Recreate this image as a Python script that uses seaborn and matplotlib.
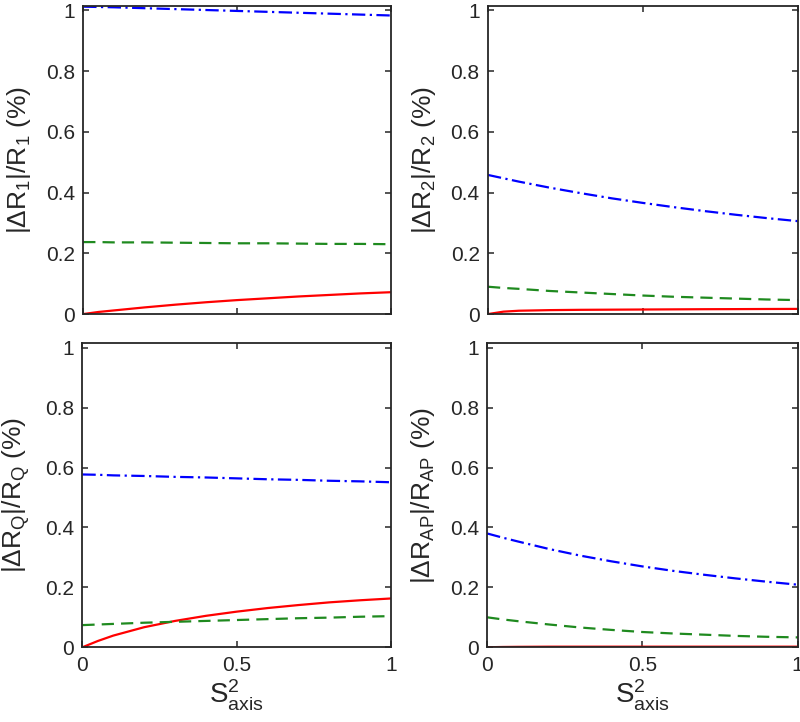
import numpy as np
import pandas as pd
import matplotlib
matplotlib.use("Agg")
import matplotlib.pyplot as plt
import seaborn as sns

# shared abscissa (S^2_axis)
s2 = [0.0, 0.05, 0.1, 0.2, 0.3, 0.4, 0.5, 0.6, 0.7, 0.8, 0.9, 1.0]

# panel R1
r1_red = [0.0, 0.007, 0.012, 0.022, 0.031, 0.039, 0.046, 0.052, 0.058, 0.063, 0.068, 0.072]
r1_green = [0.237, 0.237, 0.236, 0.236, 0.235, 0.234, 0.233, 0.233, 0.232, 0.231, 0.231, 0.230]
r1_blue = [1.012, 1.011, 1.010, 1.007, 1.004, 1.001, 0.998, 0.995, 0.992, 0.989, 0.986, 0.983]

# panel R2
r2_red = [0.0, 0.008, 0.011, 0.013, 0.014, 0.0145, 0.015, 0.0155, 0.016, 0.0163, 0.0167, 0.017]
r2_green = [0.090, 0.086, 0.083, 0.076, 0.071, 0.066, 0.061, 0.057, 0.054, 0.051, 0.048, 0.046]
r2_blue = [0.458, 0.447, 0.436, 0.416, 0.398, 0.381, 0.366, 0.352, 0.339, 0.327, 0.316, 0.306]

# panel RQ
rq_red = [0.0, 0.021, 0.039, 0.067, 0.088, 0.105, 0.119, 0.131, 0.141, 0.150, 0.157, 0.163]
rq_green = [0.074, 0.076, 0.078, 0.082, 0.085, 0.088, 0.091, 0.094, 0.097, 0.099, 0.102, 0.104]
rq_blue = [0.577, 0.576, 0.574, 0.572, 0.569, 0.567, 0.564, 0.561, 0.559, 0.556, 0.554, 0.551]

# panel RAP
rap_red = [0.0, 0.001, 0.0015, 0.002, 0.002, 0.002, 0.002, 0.002, 0.002, 0.002, 0.002, 0.002]
rap_green = [0.100, 0.093, 0.087, 0.076, 0.066, 0.058, 0.051, 0.046, 0.042, 0.038, 0.035, 0.033]
rap_blue = [0.380, 0.366, 0.353, 0.328, 0.306, 0.287, 0.270, 0.255, 0.242, 0.230, 0.219, 0.209]

ylabels = [r"|$\Delta$R$_{\mathrm{1}}$|/R$_{\mathrm{1}}$ (%)",
           r"|$\Delta$R$_{\mathrm{2}}$|/R$_{\mathrm{2}}$ (%)",
           r"|$\Delta$R$_{\mathrm{Q}}$|/R$_{\mathrm{Q}}$ (%)",
           r"|$\Delta$R$_{\mathrm{AP}}$|/R$_{\mathrm{AP}}$ (%)"]
xlabel = r"S$^{\mathrm{2}}_{\mathrm{axis}}$"

panels = [(r1_red, r1_green, r1_blue), (r2_red, r2_green, r2_blue),
          (rq_red, rq_green, rq_blue), (rap_red, rap_green, rap_blue)]

sns.set_theme(style="ticks")
ink = "#262626"
plt.rcParams.update({
    "font.family": ["Liberation Sans", "DejaVu Sans"],
    "mathtext.fontset": "custom",
    "mathtext.rm": "Liberation Sans",
    "mathtext.it": "Liberation Sans:italic",
    "mathtext.bf": "Liberation Sans:bold",
    "axes.edgecolor": ink,
    "axes.linewidth": 1.3,
    "xtick.color": ink,
    "ytick.color": ink,
    "axes.labelcolor": ink,
})

fig = plt.figure(figsize=(8, 7.22), dpi=100)
boxes = [
    [0.104, 0.565, 0.385, 0.427],
    [0.610, 0.565, 0.387, 0.427],
    [0.103, 0.1035, 0.386, 0.421],
    [0.609, 0.1035, 0.388, 0.421],
]

styles = [("#ff0000", "-"), ("#1f8a1f", (0, (5.5, 3.2))), ("#0000ff", (0, (6, 2, 1, 2)))]

for i, (box, data) in enumerate(zip(boxes, panels)):
    ax = fig.add_axes(box)
    for vals, (col, ls) in zip(data, styles):
        sns.lineplot(x=s2, y=vals, ax=ax, color=col, linestyle=ls, linewidth=1.6)
    ax.set_xlim(0, 1)
    ax.set_ylim(0, 1.015)
    ax.set_yticks([0, 0.2, 0.4, 0.6, 0.8, 1])
    ax.set_yticklabels(["0", "0.2", "0.4", "0.6", "0.8", "1"])
    ax.set_xticks([0, 0.5, 1])
    if i >= 2:
        ax.set_xticklabels(["0", "0.5", "1"])
        ax.set_xlabel(xlabel, fontsize=20, labelpad=2)
    else:
        ax.set_xticklabels([])
    ax.set_ylabel(ylabels[i], fontsize=19, labelpad=9)
    ax.tick_params(direction="in", length=4, width=1.1, top=True, right=True,
                   labelsize=15, pad=6)
    for sp in ax.spines.values():
        sp.set_visible(True)

fig.savefig("out.png", dpi=100)
